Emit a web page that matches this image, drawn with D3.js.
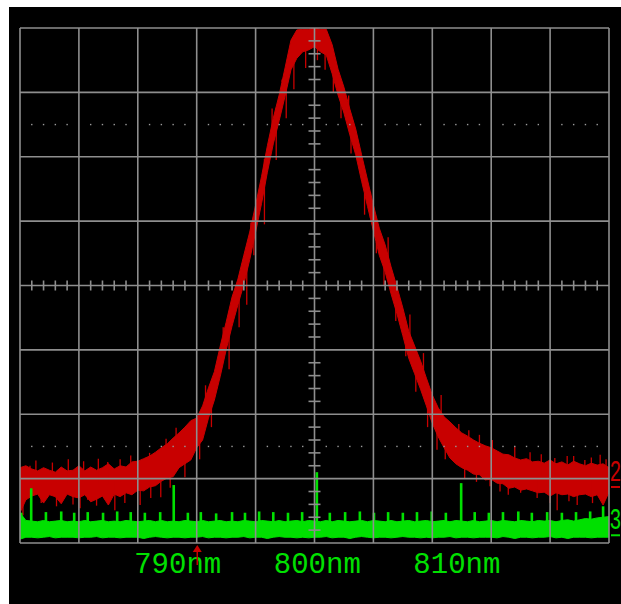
<!DOCTYPE html>
<html>
<head>
<meta charset="utf-8">
<script src="https://cdn.jsdelivr.net/npm/d3@7"></script>
<style>
  html, body { margin: 0; padding: 0; background: #fff; }
  svg { display: block; }
</style>
</head>
<body>
<svg id="scope" width="621" height="604"></svg>
<script>
// trace 2 (red), envelope per 0.1 horizontal division, in vertical divisions
const redHigh = [1.17,1.20,1.15,1.12,1.17,1.13,1.10,1.18,1.12,1.13,
  1.20,1.12,1.18,1.13,1.17,1.23,1.15,1.20,1.18,1.26,
  1.27,1.31,1.35,1.41,1.48,1.54,1.63,1.71,1.80,1.90,
  1.94,2.13,2.41,2.66,3.06,3.43,3.82,4.10,4.47,4.83,
  5.25,5.69,6.17,6.60,6.96,7.38,7.81,7.97,7.98,7.98,
  8.00,7.98,7.98,7.74,7.36,7.08,6.74,6.43,6.03,5.64,
  5.25,4.89,4.63,4.29,3.98,3.65,3.29,3.06,2.83,2.56,
  2.30,2.10,1.96,1.88,1.79,1.71,1.66,1.60,1.55,1.51,
  1.48,1.43,1.38,1.37,1.32,1.29,1.31,1.26,1.27,1.24,
  1.29,1.23,1.26,1.21,1.27,1.23,1.20,1.24,1.21,1.23,
  1.17];
const redLow = [0.47,0.67,0.73,0.76,0.62,0.75,0.72,0.61,0.76,0.72,
  0.70,0.75,0.64,0.68,0.73,0.59,0.76,0.72,0.78,0.75,
  0.82,0.81,0.87,0.89,0.96,1.01,1.03,1.17,1.23,1.29,
  1.48,1.60,1.94,2.22,2.59,3.00,3.37,3.70,4.02,4.40,
  4.83,5.27,5.76,6.20,6.56,6.94,7.35,7.53,7.63,7.66,
  7.71,7.63,7.58,7.29,6.96,6.68,6.34,6.03,5.62,5.23,
  4.85,4.47,4.21,3.87,3.56,3.22,2.87,2.63,2.39,2.13,
  1.86,1.65,1.48,1.32,1.23,1.17,1.13,1.07,1.06,0.98,
  0.99,0.93,0.92,0.85,0.87,0.82,0.84,0.81,0.78,0.79,
  0.73,0.78,0.75,0.76,0.72,0.75,0.76,0.72,0.75,0.59,
  0.79];
// red noise spikes: [horizontal div, tip div]
const redSpikes = [
  [0.05,0.43],[0.17,1.20],[0.27,1.28],[0.36,0.62],[0.55,1.25],[0.62,0.57],[0.82,1.30],
  [0.90,0.60],[1.02,0.54],[1.08,1.27],[1.15,0.67],[1.30,0.58],[1.33,1.31],[1.49,1.26],
  [1.61,0.51],[1.70,1.30],[1.78,0.62],[1.88,1.36],[2.04,0.59],[2.20,1.40],[2.22,0.70],
  [2.39,0.71],[2.48,1.62],[2.55,0.86],[2.65,1.79],[2.80,1.02],
  [3.05,1.30],[3.15,2.45],[3.25,1.80],[3.45,3.35],[3.55,2.70],[3.72,3.35],[3.85,3.70],
  [3.92,4.98],[3.97,4.47],[4.15,4.95],[4.28,6.75],[4.35,5.95],[4.45,7.20],[4.52,6.60],
  [4.65,7.05],[4.85,7.38],[5.05,7.50],[5.18,7.35],[5.32,7.00],
  [5.45,6.60],[5.58,6.95],[5.62,6.05],[5.85,5.10],[5.95,5.45],[6.05,4.50],[6.18,4.00],
  [6.25,4.75],[6.38,3.45],[6.55,2.90],[6.62,3.55],[6.72,2.35],[6.85,2.95],[6.92,1.80],
  [7.08,1.45],[7.15,2.30],[7.22,1.30],
  [7.45,1.85],[7.55,1.00],[7.62,1.75],[7.75,0.95],[7.80,1.68],[7.98,0.88],[8.02,1.60],
  [8.15,0.80],[8.29,0.75],[8.40,1.50],[8.50,0.78],[8.66,1.41],[8.78,0.70],[8.85,1.38],
  [9.00,0.62],[9.08,1.32],[9.12,0.51],[9.29,1.35],[9.32,0.65],[9.40,1.35],[9.46,0.59],
  [9.59,1.29],[9.70,1.33],[9.72,0.62],[9.85,1.37],[9.95,1.30]];

// trace 3 (green)
const greenHigh = [0.47,0.35,0.34,0.33,0.35,0.33,0.34,0.35,0.33,0.34,
  0.33,0.35,0.33,0.34,0.35,0.33,0.34,0.33,0.35,0.34,
  0.33,0.34,0.35,0.33,0.35,0.33,0.34,0.33,0.35,0.34,
  0.33,0.35,0.33,0.34,0.35,0.33,0.34,0.33,0.35,0.34,
  0.33,0.35,0.34,0.33,0.35,0.33,0.34,0.35,0.33,0.35,
  0.34,0.33,0.35,0.33,0.35,0.34,0.33,0.34,0.35,0.33,
  0.35,0.34,0.33,0.35,0.33,0.34,0.35,0.33,0.34,0.35,
  0.33,0.34,0.35,0.33,0.35,0.34,0.33,0.35,0.33,0.34,
  0.35,0.33,0.35,0.34,0.33,0.35,0.34,0.33,0.35,0.34,
  0.35,0.33,0.35,0.36,0.34,0.36,0.38,0.37,0.39,0.40,
  0.41];
const greenLow = [0.06,0.09,0.09,0.08,0.09,0.10,0.08,0.09,0.09,0.09,
  0.08,0.09,0.09,0.10,0.08,0.09,0.09,0.08,0.09,0.09,
  0.09,0.07,0.09,0.10,0.09,0.08,0.09,0.09,0.08,0.09,
  0.09,0.10,0.08,0.09,0.09,0.08,0.09,0.09,0.10,0.08,
  0.09,0.09,0.07,0.09,0.10,0.09,0.09,0.08,0.09,0.08,
  0.09,0.09,0.10,0.08,0.09,0.09,0.07,0.09,0.10,0.09,
  0.08,0.09,0.09,0.08,0.09,0.10,0.09,0.09,0.08,0.09,
  0.08,0.09,0.09,0.10,0.08,0.09,0.09,0.08,0.09,0.09,
  0.09,0.08,0.10,0.09,0.07,0.09,0.09,0.08,0.09,0.09,
  0.10,0.08,0.09,0.07,0.09,0.09,0.09,0.08,0.09,0.09,
  0.09];
const greenSpikeAt = [0.02,0.19,0.44,0.70,0.92,1.15,1.41,1.65,1.88,2.12,
  2.38,2.61,2.85,3.07,3.33,3.60,3.82,4.06,4.30,4.55,
  4.79,5.04,5.26,5.52,5.77,6.01,6.25,6.50,6.74,6.99,
  7.23,7.49,7.72,7.96,8.20,8.46,8.69,8.95,9.20,9.44,
  9.68,9.90];
const greenSpikeTip = [0.47,0.85,0.48,0.49,0.47,0.48,0.47,0.49,0.48,0.47,
  0.48,0.90,0.47,0.48,0.46,0.48,0.47,0.49,0.48,0.47,
  0.48,1.10,0.47,0.48,0.49,0.47,0.48,0.47,0.48,0.49,
  0.47,0.93,0.48,0.47,0.48,0.49,0.47,0.48,0.47,0.48,
  0.49,0.57];

const wavelengthLabels = [790, 800, 810];
const markerWavelength = 791.4;
const channels = ["2", "3"];
const channelLevels = [0.87, 0.12];

const RED = "#c80000";
const GREEN = "#00e000";
const GRID = "#8e8e8e";

const svg = d3.select("#scope");

svg.append("rect").attr("x", 9).attr("y", 7).attr("width", 612).attr("height", 597).attr("fill", "#000");

const x = d3.scaleLinear().domain([0, 10]).range([20, 609]);
const y = d3.scaleLinear().domain([0, 8]).range([543, 28]);
const wl = d3.scaleLinear().domain([778.7, 820.9]).range([x(0), x(10)]);

svg.append("defs").append("clipPath").attr("id", "screen")
  .append("rect").attr("x", x(0)).attr("y", y(8))
  .attr("width", x(10) - x(0)).attr("height", y(0) - y(8));

const traces = svg.append("g").attr("clip-path", "url(#screen)");

const band = d3.area()
  .x(d => x(d.t))
  .y0(d => y(d.lo))
  .y1(d => y(d.hi));

const redRows = redHigh.map((h, i) => ({ t: i / 10, hi: h, lo: redLow[i] }));
const greenRows = greenHigh.map((h, i) => ({ t: i / 10, hi: h, lo: greenLow[i] }));

traces.append("path").datum(redRows).attr("d", band)
  .attr("fill", RED).attr("stroke", RED).attr("stroke-width", 1);

traces.append("g").selectAll("line").data(redSpikes).join("line")
  .attr("x1", d => x(d[0])).attr("x2", d => x(d[0]))
  .attr("y1", d => {
    const r = redRows[Math.round(d[0] * 10)];
    return y((r.hi + r.lo) / 2);
  })
  .attr("y2", d => y(d[1]))
  .attr("stroke", RED).attr("stroke-width", 1.3);

traces.append("path").datum(greenRows).attr("d", band)
  .attr("fill", GREEN).attr("stroke", GREEN).attr("stroke-width", 1);

traces.append("g").selectAll("rect").data(greenSpikeAt).join("rect")
  .attr("x", d => x(d) - 1.3).attr("width", 2.6)
  .attr("y", (d, i) => y(greenSpikeTip[i]))
  .attr("height", (d, i) => y(0.25) - y(greenSpikeTip[i]))
  .attr("fill", GREEN);

// graticule
const grid = svg.append("g").attr("stroke", GRID).attr("stroke-width", 1.6);
grid.selectAll(".v").data(d3.range(0, 11)).join("line").attr("class", "v")
  .attr("x1", d => x(d)).attr("x2", d => x(d)).attr("y1", y(0)).attr("y2", y(8));
grid.selectAll(".h").data(d3.range(0, 9)).join("line").attr("class", "h")
  .attr("y1", d => y(d)).attr("y2", d => y(d)).attr("x1", x(0)).attr("x2", x(10));

const subX = d3.range(1, 50).filter(k => k % 5 !== 0).map(k => k / 5);
const subY = d3.range(1, 40).filter(k => k % 5 !== 0).map(k => k / 5);

grid.selectAll(".tx").data(subX).join("line").attr("class", "tx")
  .attr("x1", d => x(d)).attr("x2", d => x(d))
  .attr("y1", y(4) - 5).attr("y2", y(4) + 5);
grid.selectAll(".ty").data(subY).join("line").attr("class", "ty")
  .attr("y1", d => y(d)).attr("y2", d => y(d))
  .attr("x1", x(5) - 6).attr("x2", x(5) + 6);

const dots = svg.append("g").attr("fill", "#9a9a9a");
[1.5, 6.5].forEach(row => {
  dots.selectAll(null).data(subX).join("rect")
    .attr("x", d => x(d) - 0.7).attr("y", y(row) - 0.7)
    .attr("width", 1.4).attr("height", 1.4);
});

// wavelength labels
svg.append("g").selectAll("text").data(wavelengthLabels).join("text")
  .attr("x", d => wl(d)).attr("y", 573)
  .attr("text-anchor", "middle")
  .attr("font-family", "'Liberation Mono', 'DejaVu Sans Mono', monospace")
  .attr("font-size", 29)
  .attr("fill", GREEN)
  .text(d => d + "nm");

// cursor marker
const mx = wl(markerWavelength);
svg.append("line").attr("x1", mx).attr("x2", mx).attr("y1", 549).attr("y2", 565)
  .attr("stroke", RED).attr("stroke-width", 1.5);
svg.append("path").attr("d", `M${mx},545 L${mx - 4.5},552 L${mx + 4.5},552 Z`).attr("fill", RED);

// channel reference markers on the right
const chColor = [RED, GREEN];
channels.forEach((c, i) => {
  const yy = y(channelLevels[i]);
  svg.append("text")
    .attr("transform", `translate(609.5,${yy - 6}) scale(0.68,1)`)
    .attr("font-family", "'Liberation Mono', 'DejaVu Sans Mono', monospace")
    .attr("font-size", 29)
    .attr("fill", chColor[i])
    .text(c);
  svg.append("line").attr("x1", 611).attr("x2", 620).attr("y1", yy).attr("y2", yy)
    .attr("stroke", chColor[i]).attr("stroke-width", 2);
});
</script>
</body>
</html>
